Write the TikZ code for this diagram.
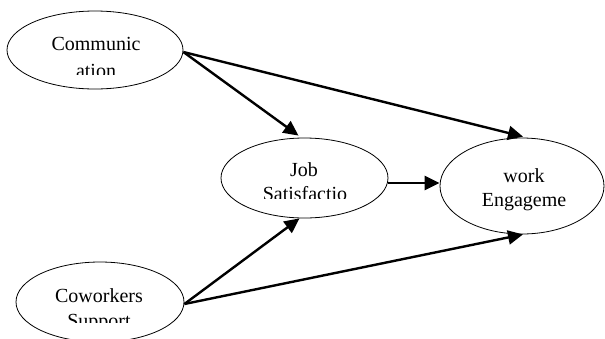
\documentclass[tikz,border=0pt]{standalone}
\usepackage{fontspec}
\setmainfont{Liberation Serif}
\usetikzlibrary{shapes.geometric,arrows.meta}
\begin{document}
\begin{tikzpicture}[x=1pt,y=-1pt,
  oval/.style={draw,line width=0.8pt,ellipse,inner sep=0pt},
  lbl/.style={anchor=base,inner sep=0pt,font=\fontsize{20}{24}\selectfont},
  link/.style={line width=2.4pt,-{Triangle[length=15pt,width=14pt]}}]
\useasboundingbox (0,0) rectangle (605,338);
\node[oval,minimum width=176pt,minimum height=78pt] (comm) at (95,50) {};
\node[oval,minimum width=167pt,minimum height=80pt] (job) at (304.5,178) {};
\node[oval,minimum width=164pt,minimum height=96pt] (work) at (522,186) {};
\node[oval,minimum width=168pt,minimum height=80pt] (cow) at (100,302) {};
\begin{scope}
\clip (0,0) rectangle (200,74);
\node[lbl] (t1) at (96,50) {Communic};
\node[lbl] (t2) at (96,77) {ation};
\end{scope}
\begin{scope}
\clip (220,140) rectangle (390,198);
\node[lbl] (t3) at (304,176) {Job};
\node[lbl] (t4) at (305,200.5) {Satisfactio};
\end{scope}
\node[lbl] (t5) at (524,182) {work};
\node[lbl] (t6) at (524,206) {Engageme};
\begin{scope}
\clip (0,260) rectangle (200,322);
\node[lbl] (t7) at (99,302) {Coworkers};
\node[lbl] (t8) at (99,327.5) {Support};
\end{scope}
\draw[link] ([yshift=-2pt]comm.east) -- ([xshift=-6pt,yshift=2pt]job.north);
\draw[link] ([yshift=-2pt]comm.east) -- ([xshift=1pt,yshift=1pt]work.north);
\draw[link] ([yshift=-5pt]job.east) -- ([yshift=3pt]work.west);
\draw[link] ([yshift=-2pt]cow.east) -- ([xshift=-5pt]job.south);
\draw[link] ([yshift=-2pt]cow.east) -- ([xshift=1pt]work.south);
\end{tikzpicture}
\end{document}
